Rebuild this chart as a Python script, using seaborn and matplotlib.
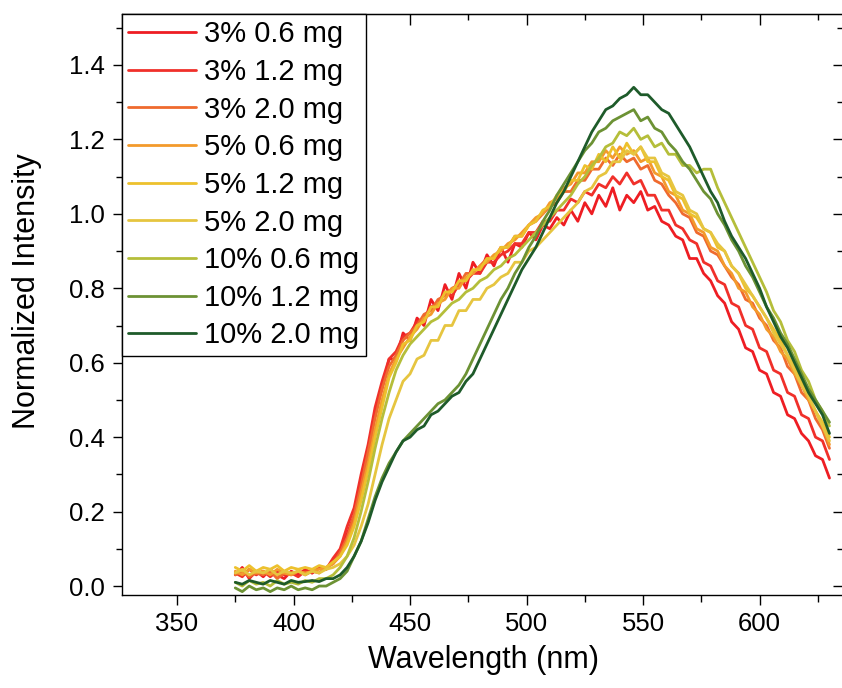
import numpy as np
import pandas as pd
import matplotlib
matplotlib.use('Agg')
import matplotlib.pyplot as plt
import seaborn as sns
from matplotlib.ticker import MultipleLocator, FormatStrFormatter

# ---------------- data ----------------
wavelength = [375, 378, 381, 384, 387, 390, 393, 396, 399, 402,
              405, 408, 411, 414, 417, 420, 423, 426, 429, 432,
              435, 438, 441, 444, 447, 450, 453, 456, 459, 462,
              465, 468, 471, 474, 477, 480, 483, 486, 489, 492,
              495, 498, 501, 504, 507, 510, 513, 516, 519, 522,
              525, 528, 531, 534, 537, 540, 543, 546, 549, 552,
              555, 558, 561, 564, 567, 570, 573, 576, 579, 582,
              585, 588, 591, 594, 597, 600, 603, 606, 609, 612,
              615, 618, 621, 624, 627, 630]

s3_06 = [0.03, 0.05, 0.02, 0.04, 0.025, 0.045, 0.03, 0.02, 0.04, 0.03,
         0.045, 0.035, 0.05, 0.045, 0.07, 0.09, 0.14, 0.19, 0.28, 0.34,
         0.47, 0.53, 0.61, 0.61, 0.68, 0.66, 0.72, 0.70, 0.77, 0.74,
         0.81, 0.77, 0.84, 0.80, 0.87, 0.84, 0.89, 0.86, 0.91, 0.87,
         0.92, 0.91, 0.95, 0.93, 0.97, 0.96, 0.99, 0.97, 1.01, 0.98,
         1.03, 1.00, 1.05, 1.02, 1.07, 1.01, 1.05, 1.03, 1.06, 1.01,
         1.02, 0.98, 0.97, 0.94, 0.93, 0.88, 0.88, 0.84, 0.82, 0.78,
         0.76, 0.71, 0.69, 0.64, 0.63, 0.58, 0.57, 0.52, 0.51, 0.46,
         0.45, 0.41, 0.39, 0.35, 0.34, 0.29]

s3_12 = [0.035, 0.025, 0.045, 0.03, 0.04, 0.025, 0.04, 0.03, 0.035, 0.025,
         0.04, 0.035, 0.05, 0.045, 0.075, 0.10, 0.16, 0.21, 0.30, 0.38,
         0.48, 0.55, 0.61, 0.63, 0.67, 0.68, 0.71, 0.72, 0.75, 0.76,
         0.79, 0.78, 0.81, 0.82, 0.84, 0.84, 0.87, 0.87, 0.89, 0.90,
         0.92, 0.92, 0.95, 0.95, 0.98, 0.98, 1.01, 1.01, 1.04, 1.03,
         1.06, 1.05, 1.08, 1.07, 1.10, 1.08, 1.11, 1.08, 1.09, 1.05,
         1.05, 1.01, 1.01, 0.97, 0.96, 0.93, 0.92, 0.87, 0.86, 0.82,
         0.81, 0.76, 0.75, 0.70, 0.69, 0.64, 0.63, 0.58, 0.57, 0.52,
         0.51, 0.46, 0.45, 0.40, 0.39, 0.34]

s3_20 = [0.03, 0.04, 0.025, 0.035, 0.03, 0.04, 0.02, 0.035, 0.03, 0.04,
         0.03, 0.04, 0.035, 0.05, 0.06, 0.09, 0.13, 0.19, 0.27, 0.36,
         0.45, 0.53, 0.59, 0.62, 0.66, 0.68, 0.70, 0.73, 0.74, 0.77,
         0.78, 0.80, 0.81, 0.84, 0.84, 0.86, 0.88, 0.88, 0.91, 0.91,
         0.94, 0.94, 0.97, 0.98, 1.00, 1.02, 1.03, 1.06, 1.06, 1.09,
         1.09, 1.12, 1.12, 1.15, 1.13, 1.16, 1.14, 1.15, 1.12, 1.13,
         1.09, 1.08, 1.05, 1.03, 1.00, 0.99, 0.95, 0.94, 0.90, 0.89,
         0.86, 0.83, 0.81, 0.77, 0.76, 0.72, 0.70, 0.66, 0.64, 0.59,
         0.57, 0.52, 0.50, 0.45, 0.42, 0.37]

s5_06 = [0.04, 0.03, 0.045, 0.035, 0.04, 0.03, 0.045, 0.035, 0.03, 0.04,
         0.035, 0.04, 0.045, 0.05, 0.06, 0.08, 0.12, 0.17, 0.25, 0.33,
         0.42, 0.50, 0.57, 0.61, 0.64, 0.67, 0.69, 0.72, 0.73, 0.76,
         0.77, 0.80, 0.80, 0.83, 0.84, 0.86, 0.87, 0.89, 0.90, 0.92,
         0.93, 0.95, 0.97, 0.99, 1.00, 1.03, 1.04, 1.07, 1.08, 1.11,
         1.11, 1.14, 1.14, 1.17, 1.15, 1.18, 1.16, 1.17, 1.14, 1.15,
         1.11, 1.10, 1.06, 1.05, 1.01, 1.00, 0.96, 0.95, 0.91, 0.90,
         0.86, 0.84, 0.80, 0.79, 0.75, 0.73, 0.69, 0.67, 0.63, 0.61,
         0.57, 0.54, 0.50, 0.47, 0.43, 0.38]

s5_12 = [0.05, 0.04, 0.055, 0.04, 0.05, 0.045, 0.055, 0.04, 0.05, 0.045,
         0.05, 0.045, 0.055, 0.05, 0.065, 0.08, 0.11, 0.16, 0.23, 0.31,
         0.40, 0.48, 0.56, 0.60, 0.65, 0.66, 0.70, 0.71, 0.75, 0.75,
         0.79, 0.79, 0.82, 0.82, 0.85, 0.85, 0.88, 0.88, 0.91, 0.91,
         0.94, 0.94, 0.97, 0.98, 1.01, 1.02, 1.05, 1.06, 1.09, 1.09,
         1.13, 1.12, 1.16, 1.14, 1.18, 1.15, 1.19, 1.16, 1.18, 1.14,
         1.14, 1.10, 1.09, 1.05, 1.04, 1.00, 0.99, 0.96, 0.95, 0.91,
         0.90, 0.86, 0.84, 0.80, 0.78, 0.75, 0.72, 0.69, 0.66, 0.62,
         0.59, 0.55, 0.51, 0.47, 0.44, 0.40]

s5_20 = [0.035, 0.045, 0.03, 0.04, 0.035, 0.045, 0.03, 0.04, 0.035, 0.04,
         0.03, 0.04, 0.035, 0.045, 0.05, 0.06, 0.08, 0.11, 0.16, 0.22,
         0.30, 0.38, 0.45, 0.50, 0.55, 0.57, 0.61, 0.62, 0.66, 0.66,
         0.70, 0.70, 0.74, 0.74, 0.77, 0.77, 0.80, 0.81, 0.83, 0.84,
         0.87, 0.87, 0.90, 0.91, 0.93, 0.95, 0.97, 0.99, 1.01, 1.03,
         1.06, 1.07, 1.10, 1.11, 1.14, 1.14, 1.17, 1.16, 1.18, 1.15,
         1.15, 1.11, 1.10, 1.06, 1.05, 1.01, 1.00, 0.96, 0.95, 0.92,
         0.90, 0.86, 0.84, 0.81, 0.78, 0.75, 0.72, 0.68, 0.65, 0.62,
         0.58, 0.54, 0.51, 0.47, 0.43, 0.39]

s10_06 = [0.01, 0.0, 0.015, 0.005, 0.01, 0.0, 0.015, 0.005, 0.01, 0.005,
          0.015, 0.01, 0.02, 0.02, 0.03, 0.05, 0.08, 0.13, 0.20, 0.28,
          0.37, 0.45, 0.52, 0.58, 0.62, 0.65, 0.67, 0.69, 0.71, 0.72,
          0.74, 0.76, 0.77, 0.79, 0.80, 0.82, 0.83, 0.85, 0.86, 0.88,
          0.89, 0.91, 0.93, 0.95, 0.97, 0.99, 1.01, 1.03, 1.05, 1.08,
          1.10, 1.13, 1.15, 1.18, 1.19, 1.22, 1.21, 1.23, 1.20, 1.21,
          1.18, 1.19, 1.16, 1.16, 1.13, 1.13, 1.11, 1.12, 1.12, 1.07,
          1.03, 0.99, 0.95, 0.91, 0.87, 0.83, 0.79, 0.74, 0.71, 0.66,
          0.63, 0.58, 0.55, 0.50, 0.47, 0.43]

s10_12 = [-0.005, -0.015, 0.0, -0.01, -0.005, -0.015, -0.005, -0.01, 0.0, -0.01,
          -0.005, -0.01, 0.0, 0.0, 0.01, 0.02, 0.04, 0.08, 0.12, 0.18,
          0.24, 0.29, 0.33, 0.36, 0.39, 0.41, 0.43, 0.45, 0.47, 0.49,
          0.50, 0.52, 0.54, 0.57, 0.61, 0.65, 0.69, 0.73, 0.77, 0.80,
          0.84, 0.87, 0.91, 0.94, 0.98, 1.01, 1.05, 1.08, 1.11, 1.14,
          1.17, 1.19, 1.22, 1.23, 1.25, 1.26, 1.27, 1.28, 1.25, 1.26,
          1.23, 1.22, 1.19, 1.17, 1.14, 1.12, 1.09, 1.06, 1.04, 1.00,
          0.97, 0.93, 0.90, 0.86, 0.83, 0.79, 0.75, 0.72, 0.68, 0.65,
          0.61, 0.57, 0.53, 0.50, 0.47, 0.44]

s10_20 = [0.01, 0.005, 0.015, 0.01, 0.005, 0.015, 0.01, 0.005, 0.015, 0.01,
          0.012, 0.015, 0.012, 0.02, 0.02, 0.03, 0.05, 0.08, 0.12, 0.17,
          0.23, 0.28, 0.32, 0.36, 0.39, 0.40, 0.42, 0.43, 0.46, 0.47,
          0.49, 0.51, 0.52, 0.55, 0.57, 0.61, 0.65, 0.69, 0.73, 0.77,
          0.81, 0.85, 0.88, 0.91, 0.95, 0.99, 1.03, 1.06, 1.10, 1.14,
          1.18, 1.22, 1.25, 1.28, 1.29, 1.31, 1.32, 1.34, 1.32, 1.32,
          1.30, 1.28, 1.27, 1.24, 1.21, 1.18, 1.14, 1.10, 1.06, 1.03,
          0.98, 0.94, 0.91, 0.88, 0.84, 0.80, 0.75, 0.71, 0.67, 0.64,
          0.60, 0.56, 0.52, 0.49, 0.46, 0.41]

labels = ["3% 0.6 mg", "3% 1.2 mg", "3% 2.0 mg",
          "5% 0.6 mg", "5% 1.2 mg", "5% 2.0 mg",
          "10% 0.6 mg", "10% 1.2 mg", "10% 2.0 mg"]
series = [s3_06, s3_12, s3_20, s5_06, s5_12, s5_20, s10_06, s10_12, s10_20]
colors = ["#EE1D23", "#F0302A", "#EF6A2E", "#F39A2C", "#EDC12D",
          "#E6C540", "#B5BE3A", "#6C9234", "#1E5B2A"]

x_ticks = [350, 400, 450, 500, 550, 600]
y_ticks = [0.0, 0.2, 0.4, 0.6, 0.8, 1.0, 1.2, 1.4]

# ---------------- long-form table ----------------
rows = []
for lab, vals in zip(labels, series):
    for w, v in zip(wavelength, vals):
        rows.append((lab, w, v))
df = pd.DataFrame(rows, columns=["sample", "wavelength", "intensity"])

# ---------------- style ----------------
sns.set_style("ticks")
plt.rcParams['font.family'] = ['Liberation Sans', 'DejaVu Sans']
plt.rcParams['text.color'] = 'black'
plt.rcParams['axes.labelcolor'] = 'black'
plt.rcParams['xtick.color'] = 'black'
plt.rcParams['ytick.color'] = 'black'
plt.rcParams['axes.edgecolor'] = 'black'

fig = plt.figure(figsize=(8.42, 6.88), dpi=100)
ax = fig.add_axes([0.1449, 0.1352, 0.8563, 0.8445])

sns.lineplot(data=df, x="wavelength", y="intensity", hue="sample",
             hue_order=labels, palette=colors, linewidth=2.0,
             sort=False, estimator=None, ax=ax)

ax.set_xlim(326.4, 635.8)
ax.set_ylim(-0.024, 1.537)
ax.set_xticks(x_ticks)
ax.set_yticks(y_ticks)
ax.xaxis.set_minor_locator(MultipleLocator(25))
ax.yaxis.set_minor_locator(MultipleLocator(0.1))
ax.yaxis.set_major_formatter(FormatStrFormatter('%.1f'))

for sp in ax.spines.values():
    sp.set_linewidth(1.0)
    sp.set_color('black')

ax.tick_params(axis='x', which='major', direction='out', length=7.5, width=1.0,
               labelsize=18.5, pad=5, top=False, color='black', labelcolor='black')
ax.tick_params(axis='x', which='minor', direction='out', length=5, width=1.0,
               top=False, color='black')
ax.tick_params(axis='y', which='major', direction='out', length=6.5, width=1.0,
               labelsize=18.5, pad=6, right=False, color='black', labelcolor='black')
ax.tick_params(axis='y', which='minor', direction='out', length=4, width=1.0,
               right=False, color='black')

# inward ticks on top and right
top = ax.secondary_xaxis('top')
top.set_xticks(x_ticks)
top.xaxis.set_minor_locator(MultipleLocator(25))
top.tick_params(which='major', direction='in', length=8, width=1.0, labeltop=False,
                color='black')
top.tick_params(which='minor', direction='in', length=4.5, width=1.0, color='black')
right = ax.secondary_yaxis('right')
right.set_yticks(y_ticks)
right.yaxis.set_minor_locator(MultipleLocator(0.1))
right.tick_params(which='major', direction='in', length=7.5, width=1.0,
                  labelright=False, color='black')
right.tick_params(which='minor', direction='in', length=4, width=1.0, color='black')

ax.set_xlabel("Wavelength (nm)", fontsize=22, color='black')
ax.set_ylabel("Normalized Intensity", fontsize=22, color='black')
ax.xaxis.set_label_coords(0.502, -0.086)
ax.yaxis.set_label_coords(-0.111, 0.523)

handles, labs = ax.get_legend_handles_labels()
leg = ax.legend(handles, labs, loc='upper left', bbox_to_anchor=(0, 1),
                borderaxespad=0, fontsize=21, frameon=True, fancybox=False,
                framealpha=1, edgecolor='black', borderpad=0.22,
                labelspacing=0.33, handlelength=2.3, handletextpad=0.3)
leg.get_frame().set_linewidth(1.0)
for t in leg.get_texts():
    t.set_color('black')
for ln in leg.get_lines():
    ln.set_linewidth(2.0)

fig.savefig("out.png", dpi=100)
